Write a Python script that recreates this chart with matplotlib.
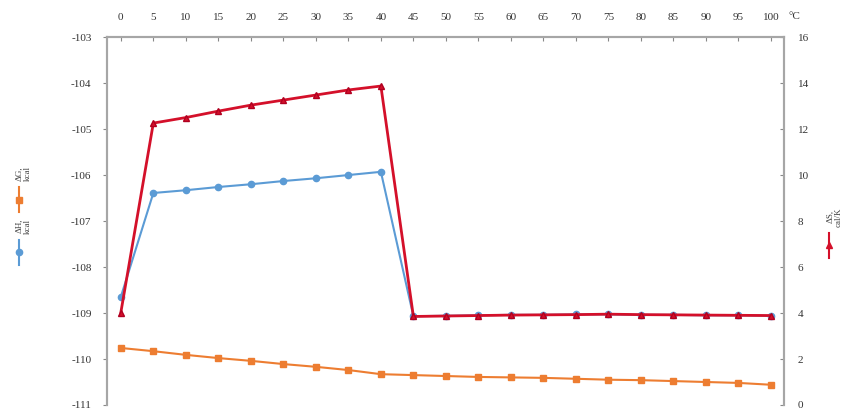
import numpy as np
import matplotlib
matplotlib.use("Agg")
import matplotlib.pyplot as plt
from matplotlib.lines import Line2D

plt.rcParams['font.family'] = ['Liberation Serif', 'DejaVu Serif']
plt.rcParams['axes.unicode_minus'] = False

# =====================
# Data
# =====================
temps = [0, 5, 10, 15, 20, 25, 30, 35, 40, 45, 50, 55, 60, 65, 70, 75, 80, 85, 90, 95, 100]

dH = [-108.65, -106.39, -106.33, -106.26, -106.20, -106.13, -106.07, -106.00, -105.93,
      -109.07, -109.06, -109.05, -109.04, -109.04, -109.03, -109.03, -109.04, -109.04,
      -109.05, -109.05, -109.06]

dG = [-109.76, -109.83, -109.91, -109.98, -110.04, -110.11, -110.17, -110.24, -110.33,
      -110.35, -110.37, -110.39, -110.40, -110.41, -110.43, -110.45, -110.46, -110.48,
      -110.50, -110.52, -110.56]

dS = [4.02, 12.26, 12.50, 12.78, 13.04, 13.26, 13.48, 13.70, 13.87,
      3.85, 3.87, 3.89, 3.91, 3.92, 3.93, 3.95, 3.93, 3.92, 3.91, 3.90, 3.89]

labels = ["\u0394G,\nkcal", "\u0394H,\nkcal", "\u0394S,\ncal/K"]

C_ORANGE = "#ED7D31"
C_BLUE = "#5B9BD5"
C_RED = "#D4102A"
C_SPINE = "#A6A6A6"

# =====================
# Figure
# =====================
fig = plt.figure(figsize=(8.48, 4.12), dpi=100)
ax = fig.add_axes([0.126, 0.017, 0.7985, 0.893])
ax2 = ax.twinx()

x = np.arange(len(temps))

ax.plot(x, dG, color=C_ORANGE, lw=1.5, marker="s", ms=4.5, zorder=3)
ax.plot(x, dH, color=C_BLUE, lw=1.5, marker="o", ms=4.5, zorder=3)
ax2.plot(x, dS, color=C_RED, lw=2.0, marker="^", ms=5, mec="#B00020", zorder=4)

ax.set_xlim(-0.43, 20.4)
ax.set_ylim(-111, -103)
ax2.set_ylim(0, 16)
ax.set_yticks(np.arange(-111, -102, 1))
ax2.set_yticks(np.arange(0, 17, 2))

ax.xaxis.tick_top()
ax.set_xticks(x)
ax.set_xticklabels([str(t) for t in temps])
ax.text(20.55, -102.55, "\u00b0C", fontsize=8, ha="left", va="center", color="#333333")

for a in (ax, ax2):
    a.spines["bottom"].set_visible(False)
    for s in ("left", "right", "top"):
        a.spines[s].set_color(C_SPINE)
        a.spines[s].set_linewidth(1.5)

ax.tick_params(axis="x", top=True, bottom=False, direction="in", length=3,
               color="#888888", labelsize=8, labelcolor="#333333", pad=11)
ax.tick_params(axis="y", direction="out", length=3, color="#888888",
               labelsize=8, labelcolor="#333333", pad=8)
ax2.tick_params(axis="y", direction="in", length=3, color="#888888",
                labelsize=8, labelcolor="#333333", pad=10)

# =====================
# Vertical legends
# =====================
def legend_entry(xf, yf, color, marker, text):
    fig.add_artist(Line2D([xf, xf], [yf - 0.03, yf + 0.03], transform=fig.transFigure,
                          color=color, lw=1.5))
    fig.add_artist(Line2D([xf], [yf], transform=fig.transFigure, color=color,
                          marker=marker, ms=4.5, lw=0))
    fig.text(xf + 0.006, yf + 0.045, text, rotation=90, fontsize=6.5, ha="center",
             va="bottom", color="#444444", linespacing=1.1)

legend_entry(0.022, 0.515, C_ORANGE, "s", labels[0])
legend_entry(0.022, 0.388, C_BLUE, "o", labels[1])
legend_entry(0.978, 0.405, C_RED, "^", labels[2])

fig.savefig("out.png", dpi=100)
